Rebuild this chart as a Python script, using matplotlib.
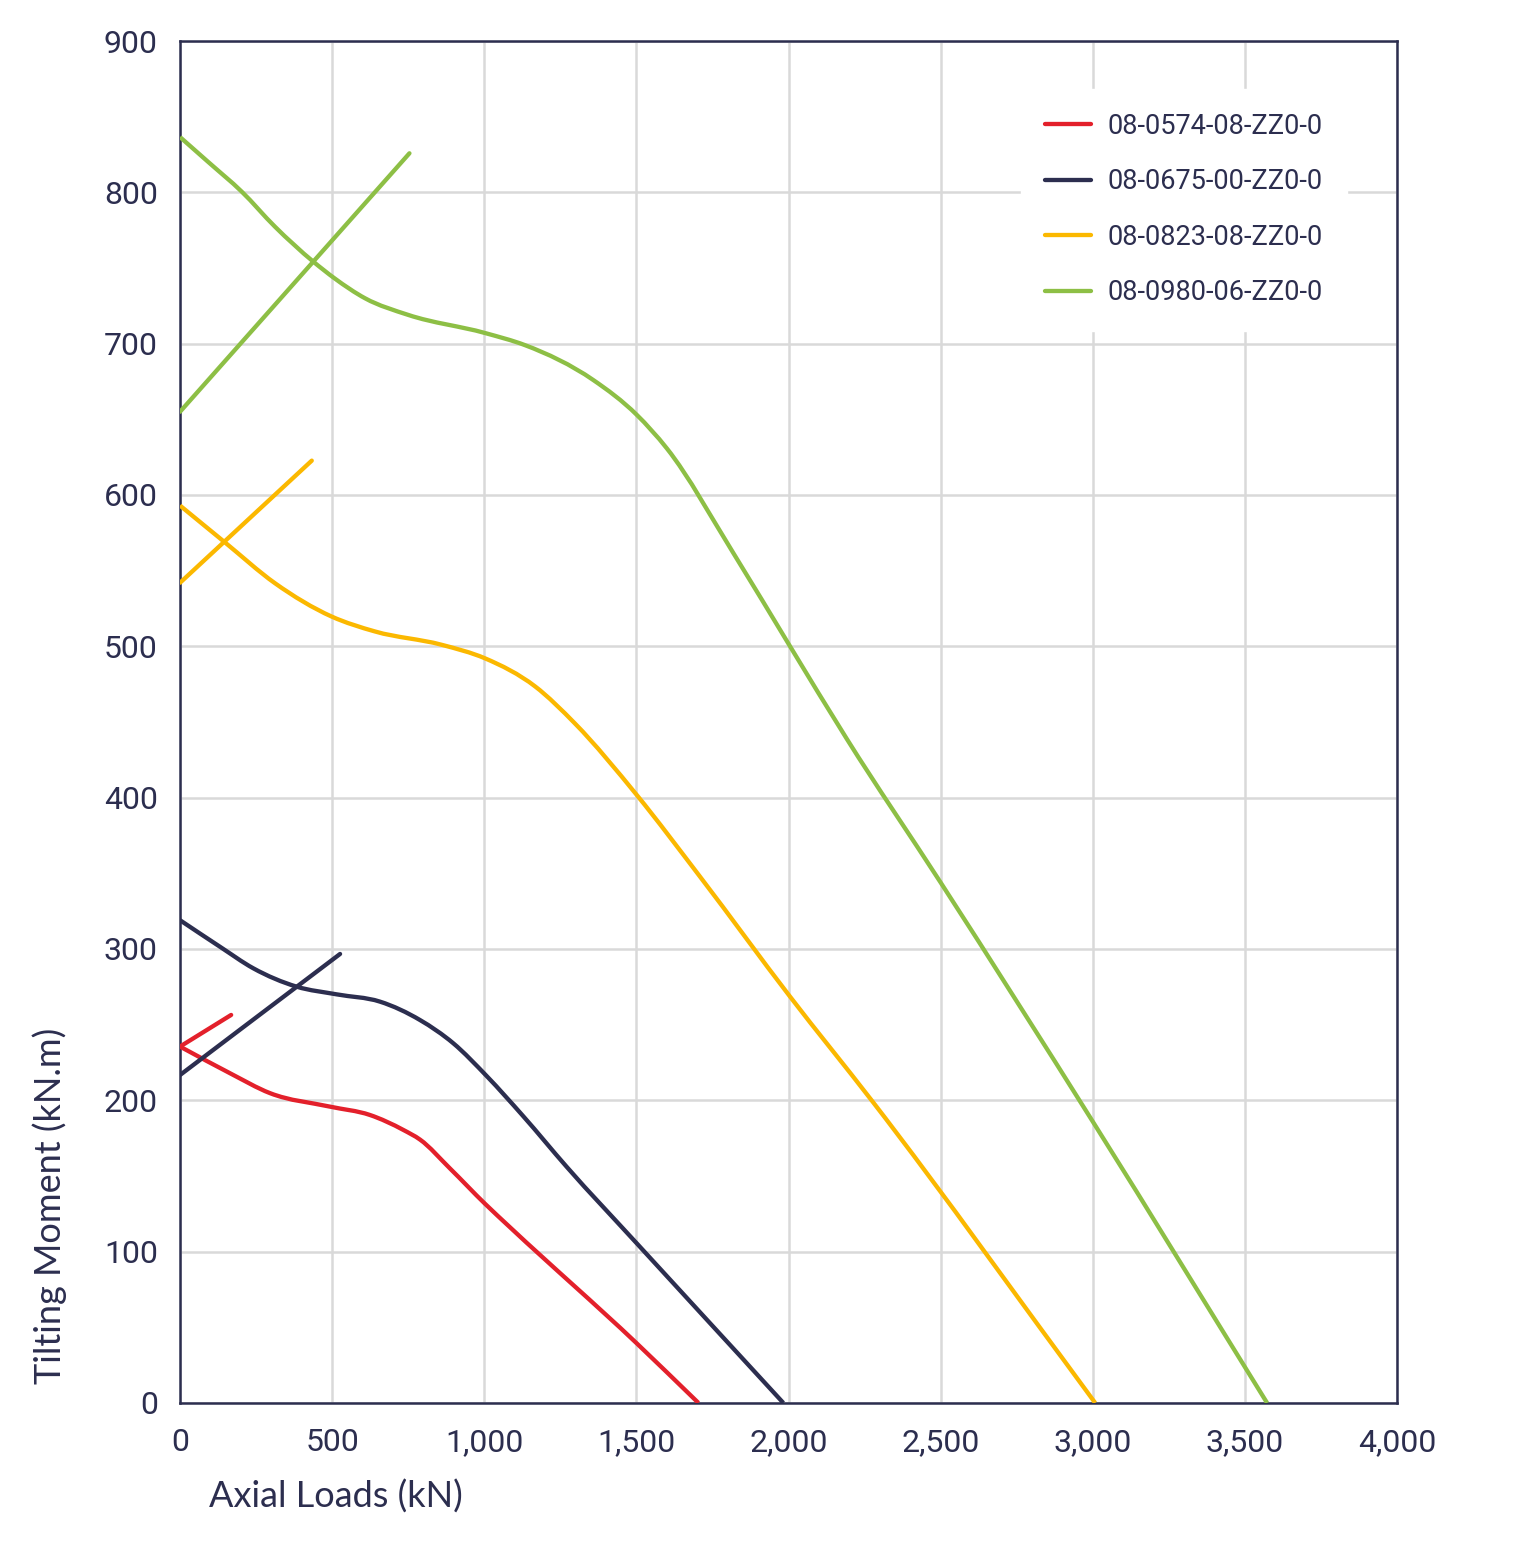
import matplotlib
matplotlib.use("Agg")
import matplotlib.pyplot as plt
import numpy as np
from matplotlib.path import Path
from matplotlib.patches import PathPatch
from matplotlib.lines import Line2D
from matplotlib.ticker import FuncFormatter

# curve data (axial load kN, tilting moment kN.m)
red_x = [0, 164, 296, 493, 624, 734, 789, 887, 1003, 1085, 1501, 1704]
red_y = [235.5, 217.9, 204.7, 195.8, 190.3, 180.4, 174, 155, 131.5, 116, 39.4, 0]
red_lin_x = [0, 168]
red_lin_y = [235.5, 256.4]

navy_x = [0, 131, 241, 383, 515, 657, 789, 898, 1008, 1128, 1271, 1501, 1983]
navy_y = [319, 301.5, 287.2, 275.1, 270, 265.2, 253, 237.7, 216, 189.5, 156, 105.5, 0]
navy_lin_x = [0, 526]
navy_lin_y = [216.7, 296.7]

yellow_x = [0, 148, 312, 498, 641, 860, 1003, 1167, 1298, 1501, 1709, 2005, 2273, 3008]
yellow_y = [593, 568.6, 541.7, 519.7, 509.8, 501, 492, 473.5, 449, 401.8, 347.8, 268.5, 200, 0]
yellow_lin_x = [0, 433]
yellow_lin_y = [542, 622.7]

green_x = [0, 93, 203, 312, 438, 509, 608, 750, 1003, 1134, 1358, 1501,
           1600, 1819, 2005, 2191, 2501, 3002, 3573]
green_y = [836.5, 820, 800.4, 777.3, 754.2, 743, 730, 719, 707, 699, 676, 653,
           630.8, 561.5, 500, 439, 343.6, 185.3, 0]
green_lin_x = [0, 754]
green_lin_y = [655, 825.8]

labels = ['08-0574-08-ZZ0-0', '08-0675-00-ZZ0-0', '08-0823-08-ZZ0-0', '08-0980-06-ZZ0-0']
colors = ['#e3202b', '#2c2e4f', '#fbb800', '#8dbf45']

ink = '#2c2e4f'
tick_font = ['Roboto', 'DejaVu Sans']
label_font = ['Lato', 'DejaVu Sans']


def smooth_path(xs, ys):
    # smoothed line like the spreadsheet one: bezier segments through the points,
    # tangent at each point taken from the neighbouring slopes
    x = np.asarray(xs, float)
    y = np.asarray(ys, float)
    h = np.diff(x)
    s = np.diff(y) / h
    m = np.empty_like(x)
    m[0], m[-1] = s[0], s[-1]
    m[1:-1] = (s[:-1] * h[1:] + s[1:] * h[:-1]) / (h[:-1] + h[1:])
    verts = [(x[0], y[0])]
    codes = [Path.MOVETO]
    for i in range(len(x) - 1):
        d = h[i] / 3
        verts += [(x[i] + d, y[i] + m[i] * d), (x[i + 1] - d, y[i + 1] - m[i + 1] * d),
                  (x[i + 1], y[i + 1])]
        codes += [Path.CURVE4] * 3
    return Path(verts, codes)


fig = plt.figure(figsize=(15.18, 15.59), dpi=100)
ax = fig.add_axes([0.1186, 0.1001, 0.8017, 0.8736])

series = [(red_x, red_y, red_lin_x, red_lin_y),
          (navy_x, navy_y, navy_lin_x, navy_lin_y),
          (yellow_x, yellow_y, yellow_lin_x, yellow_lin_y),
          (green_x, green_y, green_lin_x, green_lin_y)]

handles = []
for (cx, cy, lx, ly), lab, col in zip(series, labels, colors):
    ax.add_patch(PathPatch(smooth_path(cx, cy), fill=False, ec=col, lw=3.1,
                           joinstyle='round', capstyle='butt', zorder=3))
    ax.plot(lx, ly, color=col, lw=3.1, solid_capstyle='round', zorder=3)
    handles.append(Line2D([], [], color=col, lw=3.1, solid_capstyle='round', label=lab))

ax.set_xlim(0, 4000)
ax.set_ylim(0, 900)
ax.set_xticks(range(0, 4001, 500))
ax.set_yticks(range(0, 901, 100))
ax.xaxis.set_major_formatter(FuncFormatter(lambda v, p: f'{int(v):,}'))
ax.grid(True, color='#d9d9d9', lw=1.8)
ax.set_axisbelow(True)
for s in ax.spines.values():
    s.set_color(ink)
    s.set_linewidth(1.8)
ax.tick_params(length=0, labelsize=23, colors=ink)
ax.tick_params(axis='x', pad=18)
ax.tick_params(axis='y', pad=16)
for t in ax.get_xticklabels() + ax.get_yticklabels():
    t.set_family(tick_font)

ax.set_xlabel('Axial Loads (kN)', fontsize=26, color=ink, family=label_font)
ax.set_ylabel('Tilting Moment (kN.m)', fontsize=26, color=ink, family=label_font)
ax.xaxis.set_label_coords(0.128, -0.056)
ax.yaxis.set_label_coords(-0.093, 0.145)

leg = ax.legend(handles=handles, loc='upper right', bbox_to_anchor=(0.970, 0.975), frameon=True,
                fancybox=False, edgecolor='white', facecolor='white', framealpha=1,
                prop={'family': tick_font, 'size': 19.5}, labelcolor=ink,
                handlelength=1.7, handletextpad=0.6, labelspacing=1.05,
                borderpad=0.9)
leg.set_zorder(5)

fig.savefig('out.png', dpi=100)
